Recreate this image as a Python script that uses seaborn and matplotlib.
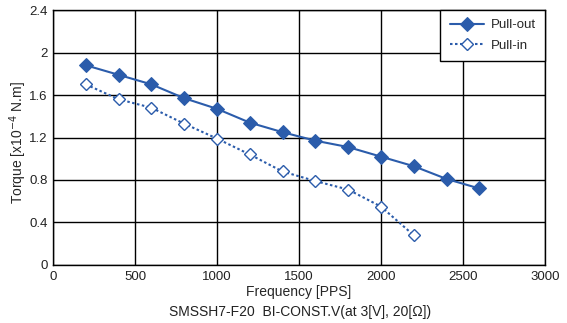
import matplotlib
matplotlib.use("Agg")
import matplotlib.pyplot as plt
import seaborn as sns
import pandas as pd
from matplotlib.ticker import FuncFormatter

freq_out = [200, 400, 600, 800, 1000, 1200, 1400, 1600, 1800, 2000, 2200, 2400, 2600]
torque_out = [1.88, 1.79, 1.70, 1.57, 1.47, 1.34, 1.25, 1.17, 1.11, 1.02, 0.93, 0.81, 0.72]
freq_in = [200, 400, 600, 800, 1000, 1200, 1400, 1600, 1800, 2000, 2200]
torque_in = [1.70, 1.56, 1.48, 1.33, 1.19, 1.04, 0.88, 0.79, 0.71, 0.55, 0.28]
x_ticks = [0, 500, 1000, 1500, 2000, 2500, 3000]
y_ticks = [0, 0.4, 0.8, 1.2, 1.6, 2.0, 2.4]

sns.set_theme(style="white")
plt.rcParams['font.family'] = ['Liberation Sans', 'DejaVu Sans']

df_out = pd.DataFrame({"Frequency": freq_out, "Torque": torque_out})
df_in = pd.DataFrame({"Frequency": freq_in, "Torque": torque_in})

color = "#2b5cab"
fig = plt.figure(figsize=(5.67, 3.23), dpi=100)
ax = fig.add_axes([0.0935, 0.1796, 0.8675, 0.7894])

sns.lineplot(data=df_out, x="Frequency", y="Torque", ax=ax, color=color, lw=1.5,
             marker="D", markersize=7, markerfacecolor=color, markeredgecolor=color,
             label="Pull-out")
sns.lineplot(data=df_in, x="Frequency", y="Torque", ax=ax, color=color, lw=1.5,
             linestyle=(0, (1.2, 1.2)), marker="D", markersize=6.5, markerfacecolor="white",
             markeredgecolor=color, markeredgewidth=1.0, label="Pull-in")

ax.set_xlim(0, 3000)
ax.set_ylim(0, 2.4)
ax.set_xticks(x_ticks)
ax.set_yticks(y_ticks)
ax.yaxis.set_major_formatter(FuncFormatter(lambda v, p: f"{v:g}"))
ax.grid(True, color="black", lw=1.0)
ax.set_axisbelow(True)
for s in ax.spines.values():
    s.set_color("black")
    s.set_linewidth(1.0)
ax.tick_params(length=0, labelsize=9.5, colors="#222222", pad=4)
ax.set_xlabel("Frequency [PPS]", fontsize=10, labelpad=2)
ax.set_ylabel("Torque [x10$^{-4}$ N.m]", fontsize=10)
ax.yaxis.set_label_coords(-0.048, 0.48)

leg = ax.legend(loc="upper right", fontsize=9.5, frameon=True, fancybox=False,
                borderaxespad=0, handlelength=2.6, handletextpad=0.5,
                borderpad=0.7, labelspacing=0.6)
leg.get_frame().set_edgecolor("black")
leg.get_frame().set_linewidth(1.0)
leg.get_frame().set_alpha(1)

fig.text(0.53, 0.034, "SMSSH7-F20  BI-CONST.V(at 3[V], 20[Ω])", ha="center", va="center",
         fontsize=10, color="#222222")

fig.savefig("out.png", dpi=100)
